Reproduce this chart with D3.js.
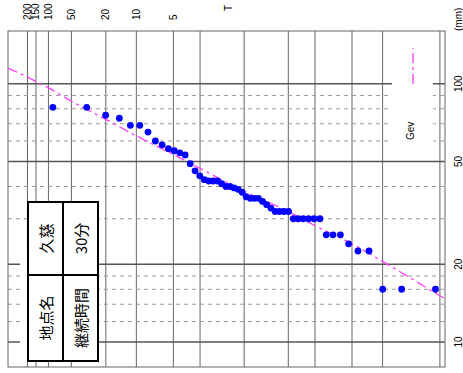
<!DOCTYPE html>
<html lang="ja">
<head>
<meta charset="UTF-8">
<title>確率紙プロット</title>
<script src="https://d3js.org/d3.v7.min.js"></script>
<style>
  body { margin: 0; background: #fff; }
  svg { display: block; font-family: "Liberation Sans", Arial, sans-serif; }
  .vgrid { stroke: #666; stroke-width: 1; }
  .hmajor { stroke: #555; stroke-width: 1.4; }
  .hminor { stroke: #999; stroke-width: 1; stroke-dasharray: 4,4; }
  .frame { fill: none; stroke: #666; stroke-width: 1; }
  .lbl { font-size: 10px; fill: #000; }
  .gev { fill: none; stroke: #ff44ff; stroke-width: 1.4; stroke-dasharray: 10,4,3,4; }
  .cell { font-family: "Noto Sans CJK JP", sans-serif; font-size: 15px; fill: #000; }
</style>
</head>
<body>
<svg width="463" height="373"></svg>
<script>
// 年最大30分雨量 (mm)、大きい順
const rainfall = [81, 81, 75.5, 73.5, 69, 69, 65, 60, 58, 56, 55, 54, 53, 49, 46, 44,
    42.5, 42, 42, 42, 41, 40, 40, 39.5, 39, 38, 36.5, 36, 36, 36, 35, 34, 33, 32, 32, 32,
    32, 30, 30, 30, 30, 30, 30, 26, 26, 26, 24, 22.5, 22.5, 16, 16, 16];

// 非超過確率の格子線と再現期間ラベル
const probGrid = [0.995, 0.99333, 0.99, 0.98, 0.95, 0.9, 0.8, 0.7, 0.5, 0.3, 0.2, 0.1, 0.05, 0.01];
const returnPeriods = [200, 150, 100, 50, 20, 10, 5];

// 雨量軸
const valueMajor = [10, 20, 50, 100];
const valueMinor = [12, 14, 16, 18, 30, 40, 60, 70, 80, 90];

// Gev 当てはめ線
const gevProb = [0.9975, 0.995, 0.99, 0.98, 0.95, 0.9, 0.8, 0.7, 0.5, 0.3, 0.2, 0.1, 0.05, 0.01, 0.0085];
const gevValue = [115, 106, 96.4, 85.6, 72.8, 62.8, 53.2, 47, 38.3, 32, 28.2, 24, 20.5, 15.1, 14.7];

// 表
const siteName = "久慈";
const duration = "30分";

// 標準正規分布の逆関数 (Acklam)
function qnorm(p) {
    const a = [-39.6968302866538, 220.946098424521, -275.928510446969, 138.357751867269, -30.6647980661472, 2.50662827745924];
    const b = [-54.4760987982241, 161.585836858041, -155.698979859887, 66.8013118877197, -13.2806815528857];
    const c = [-0.00778489400243029, -0.322396458041136, -2.40075827716184, -2.54973253934373, 4.37466414146497, 2.93816398269878];
    const d = [0.00778469570904146, 0.32246712907004, 2.445134137143, 3.75440866190742];
    const pl = 0.02425;
    let q, r;
    if (p < pl) {
        q = Math.sqrt(-2 * Math.log(p));
        return (((((c[0]*q+c[1])*q+c[2])*q+c[3])*q+c[4])*q+c[5]) / ((((d[0]*q+d[1])*q+d[2])*q+d[3])*q+1);
    } else if (p <= 1 - pl) {
        q = p - 0.5; r = q * q;
        return (((((a[0]*r+a[1])*r+a[2])*r+a[3])*r+a[4])*r+a[5])*q / (((((b[0]*r+b[1])*r+b[2])*r+b[3])*r+b[4])*r+1);
    } else {
        q = Math.sqrt(-2 * Math.log(1 - p));
        return -(((((c[0]*q+c[1])*q+c[2])*q+c[3])*q+c[4])*q+c[5]) / ((((d[0]*q+d[1])*q+d[2])*q+d[3])*q+1);
    }
}

const pLeft = 8, pRight = 445, pTop = 31, pBottom = 367;
const svg = d3.select("svg");

const zScale = d3.scaleLinear().domain([qnorm(0.9975), qnorm(0.0085)]).range([pLeft, pRight]);
const x = p => zScale(qnorm(p));
const y = d3.scaleLog().domain([8, 160]).range([pBottom, pTop]);

// 格子
svg.append("g").selectAll("line").data(probGrid).enter().append("line")
    .attr("class", "vgrid")
    .attr("x1", d => x(d)).attr("x2", d => x(d))
    .attr("y1", pTop).attr("y2", pBottom);

svg.append("g").selectAll("line").data(valueMinor).enter().append("line")
    .attr("class", "hminor")
    .attr("x1", pLeft).attr("x2", pRight)
    .attr("y1", d => y(d)).attr("y2", d => y(d));

svg.append("g").selectAll("line").data(valueMajor).enter().append("line")
    .attr("class", "hmajor")
    .attr("x1", pLeft).attr("x2", pRight)
    .attr("y1", d => y(d)).attr("y2", d => y(d));

svg.append("rect").attr("class", "frame")
    .attr("x", pLeft).attr("y", pTop)
    .attr("width", pRight - pLeft).attr("height", pBottom - pTop);

// ラベル (90度回転)
svg.append("g").selectAll("text").data(returnPeriods).enter().append("text")
    .attr("class", "lbl")
    .attr("transform", d => `translate(${x(1 - 1 / d) + 3.5},20) rotate(-90)`)
    .text(d => d);

svg.append("text").attr("class", "lbl")
    .attr("transform", "translate(232,11) rotate(-90)")
    .text("T");

svg.append("g").selectAll("text").data(valueMajor).enter().append("text")
    .attr("class", "lbl")
    .attr("text-anchor", "middle")
    .attr("transform", d => `translate(462,${y(d)}) rotate(-90)`)
    .text(d => d);

svg.append("text").attr("class", "lbl")
    .attr("transform", "translate(462,31) rotate(-90)")
    .text("(mm)");

// 凡例
svg.append("rect").attr("x", 392).attr("y", pTop + 1).attr("width", 41).attr("height", 118).attr("fill", "#fff");
svg.append("line").attr("class", "gev")
    .attr("x1", 413).attr("x2", 413).attr("y1", 84).attr("y2", 48);
svg.append("text").attr("class", "lbl")
    .attr("transform", "translate(414,140) rotate(-90)")
    .text("Gev");

// Gev 線
const gevData = gevProb.map((p, i) => [p, gevValue[i]]);
svg.append("path").datum(gevData)
    .attr("class", "gev")
    .attr("d", d3.line().x(d => x(d[0])).y(d => y(d[1])).curve(d3.curveMonotoneX));

// 観測値 (Cunnane プロット位置)
const N = rainfall.length;
svg.append("g").selectAll("circle").data(rainfall).enter().append("circle")
    .attr("cx", (d, i) => x(1 - (i + 1 - 0.4) / (N + 0.2)))
    .attr("cy", d => y(d))
    .attr("r", 3.4)
    .attr("fill", "#0000ff");

// 表
svg.append("rect").attr("x", 20).attr("y", 250).attr("width", 10).attr("height", 111).attr("fill", "#fff");
svg.append("rect").attr("x", 28).attr("y", 202).attr("width", 70).attr("height", 159)
    .attr("fill", "#fff").attr("stroke", "#000").attr("stroke-width", 2);
svg.append("line").attr("x1", 63).attr("x2", 63).attr("y1", 202).attr("y2", 361)
    .attr("stroke", "#000").attr("stroke-width", 2);
svg.append("line").attr("x1", 28).attr("x2", 98).attr("y1", 275).attr("y2", 275)
    .attr("stroke", "#000").attr("stroke-width", 2);

const cells = [
    [45.5, 238.5, siteName], [80.5, 238.5, duration],
    [45.5, 318, "地点名"], [80.5, 318, "継続時間"]
];
svg.append("g").selectAll("text").data(cells).enter().append("text")
    .attr("class", "cell")
    .attr("text-anchor", "middle")
    .attr("dominant-baseline", "central")
    .attr("transform", d => `translate(${d[0]},${d[1]}) rotate(-90)`)
    .text(d => d[2]);
</script>
</body>
</html>
